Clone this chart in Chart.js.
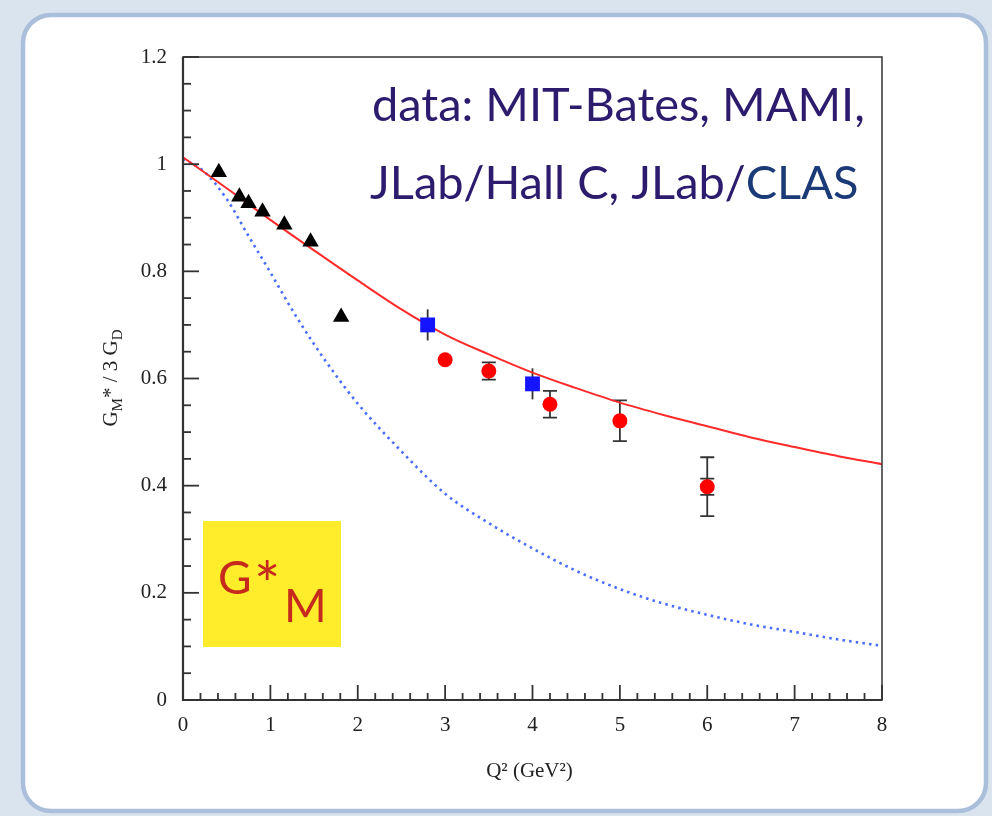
<!DOCTYPE html>
<html><head><meta charset="utf-8">
<script src="https://cdn.jsdelivr.net/npm/chart.js@4.4.1/dist/chart.umd.min.js"></script>
<style>html,body{margin:0;padding:0;background:#dae4ef;overflow:hidden}
#c{position:absolute;left:0;top:0}</style></head>
<body><canvas id="c" width="992" height="816"></canvas>
<script>
// ---- data ----
const triangleQ2 = [0.41, 0.645, 0.75, 0.91, 1.16, 1.46, 1.81];
const triangleG  = [0.985, 0.939, 0.927, 0.911, 0.887, 0.855, 0.715];
const squareQ2   = [2.8, 4.0];
const squareG    = [0.700, 0.590];
const squareErr  = [0.029, 0.029];
const circleQ2   = [3.0, 3.5, 4.2, 5.0, 6.0];
const circleG    = [0.635, 0.614, 0.552, 0.521, 0.398];
const circleErr  = [0, 0.016, 0.025, 0.038, 0.055];
const circleStat = [0, 0, 0, 0, 0.015];
const redQ2      = [0, 0.5, 1, 1.5, 2, 2.5, 3, 3.5, 4, 4.5, 5, 5.5, 6, 6.5, 7, 7.5, 8];
const redCurve   = [1.013, 0.955, 0.896, 0.839, 0.783, 0.729, 0.682, 0.645, 0.611, 0.582, 0.555, 0.532, 0.511, 0.490, 0.472, 0.455, 0.440];
const blueQ2     = [0, 0.25, 0.5, 0.75, 1, 1.25, 1.5, 1.75, 2, 2.5, 3, 3.5, 4, 4.5, 5, 5.5, 6, 6.5, 7, 7.5, 8];
const blueCurve  = [1.010, 0.985, 0.935, 0.866, 0.798, 0.728, 0.664, 0.606, 0.553, 0.464, 0.385, 0.330, 0.283, 0.241, 0.207, 0.180, 0.159, 0.141, 0.127, 0.113, 0.101];
const xTickValues = [0, 1, 2, 3, 4, 5, 6, 7, 8];
const yTickValues = [0, 0.2, 0.4, 0.6, 0.8, 1, 1.2];
const annotationLines = ["data: MIT-Bates, MAMI,", "JLab/Hall C, JLab/", "CLAS"];
const boxLabel = ["G", "*", "M"];
const xTitle = "Q\u00B2 (GeV\u00B2)";

const pts = (xs, ys) => xs.map((x, i) => ({x, y: ys[i]}));

const decor = {
  id: 'decor',
  beforeDraw(chart) {
    const c = chart.ctx;
    c.save();
    c.fillStyle = '#dae4ef';
    c.fillRect(0, 0, 992, 816);
    c.beginPath();
    c.roundRect(23, 15, 963, 796, 28);
    c.fillStyle = '#ffffff';
    c.fill();
    c.lineWidth = 4.5;
    c.strokeStyle = '#abbfdb';
    c.stroke();
    c.restore();
  },
  beforeDatasetsDraw(chart) {
    const c = chart.ctx, xs = chart.scales.x, ys = chart.scales.y;
    c.save();
    c.strokeStyle = '#333';
    c.lineWidth = 1.8;
    const bar = (q, v, e, cap) => {
      const px = xs.getPixelForValue(q);
      const y1 = ys.getPixelForValue(v - e), y2 = ys.getPixelForValue(v + e);
      c.beginPath(); c.moveTo(px, y1); c.lineTo(px, y2); c.stroke();
      if (cap) {
        c.beginPath();
        c.moveTo(px - 7, y1); c.lineTo(px + 7, y1);
        c.moveTo(px - 7, y2); c.lineTo(px + 7, y2);
        c.stroke();
      }
    };
    squareQ2.forEach((q, i) => bar(q, squareG[i], squareErr[i], false));
    circleQ2.forEach((q, i) => {
      if (circleErr[i] > 0) bar(q, circleG[i], circleErr[i], true);
      if (circleStat[i] > 0) bar(q, circleG[i], circleStat[i], true);
    });
    c.restore();
  },
  afterDraw(chart) {
    const c = chart.ctx, xs = chart.scales.x, ys = chart.scales.y;
    const a = chart.chartArea;
    c.save();
    c.strokeStyle = '#333';
    c.lineWidth = 1.5;
    c.strokeRect(a.left, a.top, a.right - a.left, a.bottom - a.top);
    c.lineWidth = 2.2;
    c.beginPath();
    c.moveTo(a.left, a.top); c.lineTo(a.left, a.bottom); c.lineTo(a.right, a.bottom);
    c.stroke();
    c.lineWidth = 1.8;
    for (let k = 0; k <= 24; k++) {
      const v = k * 0.05, py = ys.getPixelForValue(v);
      const len = (k % 4 === 0) ? 16 : 8;
      c.beginPath(); c.moveTo(a.left, py); c.lineTo(a.left + len, py); c.stroke();
    }
    for (let k = 0; k <= 40; k++) {
      const v = k * 0.2, px = xs.getPixelForValue(v);
      const len = (k % 5 === 0) ? 15 : 7;
      c.beginPath(); c.moveTo(px, a.bottom); c.lineTo(px, a.bottom - len); c.stroke();
    }
    c.fillStyle = '#222';
    c.font = '21px "Liberation Serif", serif';
    c.textAlign = 'center';
    c.textBaseline = 'alphabetic';
    c.fillText(xTitle, (a.left + a.right) / 2 - 3, 777);
    c.translate(110, 378);
    c.rotate(-Math.PI / 2);
    const big = '21px "Liberation Serif", serif', small = '15px "Liberation Serif", serif';
    const parts = [["G", big, 0], ["M", small, 5], ["* / 3 G", big, 0], ["D", small, 5]];
    let tot = 0;
    parts.forEach(p => { c.font = p[1]; tot += c.measureText(p[0]).width; });
    let x0 = -tot / 2;
    c.textAlign = 'left';
    parts.forEach(p => { c.font = p[1]; c.fillText(p[0], x0, 7 + p[2]); x0 += c.measureText(p[0]).width; });
    c.setTransform(1, 0, 0, 1, 0, 0);
    c.textAlign = 'left';
    c.font = '40px Lato';
    const w1 = c.measureText(annotationLines[0]).width;
    const fs = 40 * 493 / w1;
    c.font = fs + 'px Lato';
    c.fillStyle = '#2d1b6e';
    c.fillText(annotationLines[0], 372, 121);
    c.fillText(annotationLines[1], 370, 199);
    const w2 = c.measureText(annotationLines[1]).width;
    c.fillStyle = '#1b3a78';
    c.fillText(annotationLines[2], 370 + w2, 199);
    c.fillStyle = '#ffed2c';
    c.fillRect(203, 521, 138, 126);
    c.fillStyle = '#c62a1d';
    c.font = '46px Lato';
    c.fillText(boxLabel[0], 218, 594);
    c.font = '62px Lato';
    c.fillText(boxLabel[1], 254, 607);
    c.font = '46px Lato';
    c.fillText(boxLabel[2], 284, 622);
    c.restore();
  }
};

new Chart(document.getElementById('c'), {
  type: 'scatter',
  data: {
    datasets: [
      { label: 'dotted', data: pts(blueQ2, blueCurve), showLine: true, borderColor: '#4a6cff', borderWidth: 2.6,
        borderDash: [2.5, 4.2], pointRadius: 0, cubicInterpolationMode: 'monotone', order: 3 },
      { label: 'fit', data: pts(redQ2, redCurve), showLine: true, borderColor: '#ff2a2a', borderWidth: 2,
        pointRadius: 0, cubicInterpolationMode: 'monotone', order: 2 },
      { label: 'triangles', data: pts(triangleQ2, triangleG), pointStyle: 'triangle', pointRadius: 9.5,
        backgroundColor: '#000', borderColor: '#000', borderWidth: 0, order: 1 },
      { label: 'squares', data: pts(squareQ2, squareG), pointStyle: 'rect', pointRadius: 10.5,
        backgroundColor: '#1414ff', borderColor: '#1414ff', borderWidth: 0, order: 1 },
      { label: 'circles', data: pts(circleQ2, circleG), pointStyle: 'circle', pointRadius: 7.5,
        backgroundColor: '#ff0000', borderColor: '#ff0000', borderWidth: 0, order: 1 }
    ]
  },
  options: {
    responsive: false,
    animation: false,
    devicePixelRatio: 1,
    layout: { padding: { top: 57, right: 110, left: 0, bottom: 0 } },
    plugins: { legend: { display: false }, tooltip: { enabled: false } },
    scales: {
      x: {
        type: 'linear', min: 0, max: 8,
        afterFit: s => { s.height = 116; },
        afterBuildTicks: s => { s.ticks = xTickValues.map(v => ({value: v})); },
        grid: { display: false, drawTicks: false }, border: { display: false },
        ticks: { padding: 13, color: '#222', font: { family: '"Liberation Serif", serif', size: 21 }, maxRotation: 0 }
      },
      y: {
        type: 'linear', min: 0, max: 1.2,
        afterFit: s => { s.width = 183; },
        afterBuildTicks: s => { s.ticks = yTickValues.map(v => ({value: v})); },
        grid: { display: false, drawTicks: false }, border: { display: false },
        ticks: { padding: 16, color: '#222', font: { family: '"Liberation Serif", serif', size: 21 },
          callback: v => String(Math.round(v * 10) / 10) }
      }
    }
  },
  plugins: [decor]
});
</script></body></html>
